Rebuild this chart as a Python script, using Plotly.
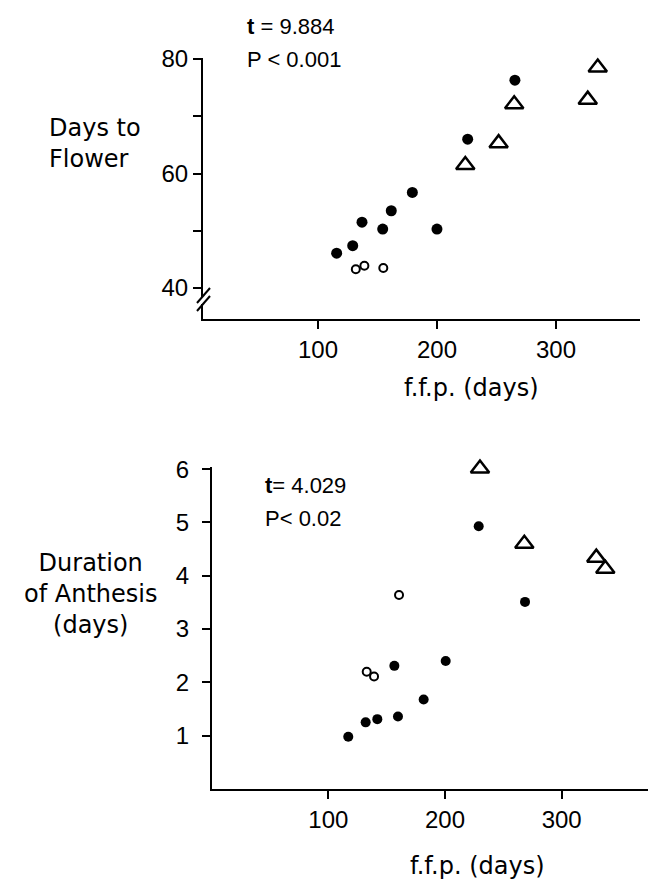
import plotly.graph_objects as go

W, H = 648, 883

# ---- Top panel: Days to Flower vs f.f.p. (days) ----
top_dot_x = [115.7, 129.2, 137.0, 154.4, 161.6, 179.3, 200.0, 225.8, 265.5]
top_dot_y = [46.1, 47.4, 51.5, 50.3, 53.5, 56.7, 50.3, 66.0, 76.3]
top_open_x = [131.8, 139.0, 154.9]
top_open_y = [43.3, 43.9, 43.5]
top_tri_x = [223.8, 251.8, 264.9, 326.7, 335.1]
top_tri_y = [61.5, 65.3, 72.1, 72.9, 78.5]

# ---- Bottom panel: Duration of Anthesis vs f.f.p. (days) ----
bot_dot_x = [117.1, 132.0, 142.0, 159.7, 156.6, 181.7, 200.6, 228.9, 268.6]
bot_dot_y = [0.98, 1.25, 1.31, 1.36, 2.31, 1.68, 2.40, 4.93, 3.51]
bot_open_x = [132.9, 139.2, 160.6]
bot_open_y = [2.20, 2.11, 3.64]
bot_tri_x = [230.0, 268.0, 329.7, 337.4]
bot_tri_y = [6.01, 4.60, 4.34, 4.13]

top_yticks = [40, 50, 60, 70, 80]
top_yticklabels = ["40", "", "60", "", "80"]
bot_yticks = [1, 2, 3, 4, 5, 6]
bot_yticklabels = ["1", "2", "3", "4", "5", "6"]
xticks = [100, 200, 300]
xticklabels = ["100", "200", "300"]

TICKFONT = dict(family="Liberation Sans, Arial, sans-serif", size=24, color="black")
LABFONT = dict(family="DejaVu Sans, sans-serif", size=24, color="black")
STATFONT = dict(family="Liberation Sans, Arial, sans-serif", size=22, color="black")

fig = go.Figure()

def add_panel(xa, ya, dx, dy, ox, oy, tx, ty, dot_size, tri_size):
    fig.add_trace(go.Scatter(x=dx, y=dy, mode="markers", xaxis=xa, yaxis=ya,
                             marker=dict(symbol="circle", size=dot_size, color="black"),
                             cliponaxis=False, showlegend=False))
    fig.add_trace(go.Scatter(x=ox, y=oy, mode="markers", xaxis=xa, yaxis=ya,
                             marker=dict(symbol="circle-open", size=8,
                                         color="black", line=dict(width=2, color="black")),
                             cliponaxis=False, showlegend=False))
    fig.add_trace(go.Scatter(x=tx, y=ty, mode="markers", xaxis=xa, yaxis=ya,
                             marker=dict(symbol="triangle-up-open", size=tri_size,
                                         color="black", line=dict(width=2.5, color="black")),
                             cliponaxis=False, showlegend=False))

add_panel("x", "y", top_dot_x, top_dot_y, top_open_x, top_open_y,
          top_tri_x, top_tri_y, 11, 16)
add_panel("x2", "y2", bot_dot_x, bot_dot_y, bot_open_x, bot_open_y,
          bot_tri_x, bot_tri_y, 10, 16)

axis_common = dict(showline=True, linecolor="black", linewidth=2,
                   ticks="outside", ticklen=8, tickwidth=2, tickcolor="black",
                   showgrid=False, zeroline=False, tickfont=TICKFONT,
                   automargin=False)

fig.update_layout(
    width=W, height=H,
    margin=dict(l=0, r=0, t=0, b=0, pad=0),
    paper_bgcolor="white", plot_bgcolor="white",
    xaxis=dict(domain=[203 / W, 640 / W], range=[3.4, 370.6], anchor="y",
               tickvals=xticks, ticktext=xticklabels, **axis_common),
    yaxis=dict(domain=[1 - 319 / H, 1 - 58 / H], range=[34.6, 80.17], anchor="x",
               tickvals=top_yticks, ticktext=top_yticklabels, **axis_common),
    xaxis2=dict(domain=[212 / W, 1.0], range=[0.3, 374], anchor="y2",
                tickvals=xticks, ticktext=xticklabels, **axis_common),
    yaxis2=dict(domain=[1 - 789 / H, 1 - 467 / H], range=[0, 6.04], anchor="x2",
                tickvals=bot_yticks, ticktext=bot_yticklabels,
                ticklabelstandoff=8, **axis_common),
)

def ann(text, px, py, xanchor="left", font=LABFONT, align="left"):
    fig.add_annotation(text=text, x=px / W, y=1 - py / H, xref="paper", yref="paper",
                       xanchor=xanchor, yanchor="middle", showarrow=False,
                       font=font, align=align)

# axis titles
ann("Days to<br>Flower", 47, 143)
ann("f.f.p. (days)", 471, 388, xanchor="center", align="center")
ann("Duration<br>of Anthesis<br>(days)", 90, 594, xanchor="center", align="center")
ann("f.f.p. (days)", 478, 866, xanchor="center", align="center")

# statistics
ann("<b>t</b> = 9.884", 245, 27, font=STATFONT)
ann("P < 0.001", 245, 60, font=STATFONT)
ann("<b>t</b>= 4.029", 263, 485, font=STATFONT)
ann("P< 0.02", 263, 518, font=STATFONT)

# axis break marks on the top y axis
fig.add_shape(type="rect", xref="paper", yref="paper",
              x0=199 / W, x1=207 / W, y0=1 - 304 / H, y1=1 - 297 / H,
              fillcolor="white", line=dict(width=0), layer="above")
for off in (0, 8):
    fig.add_shape(type="line", xref="paper", yref="paper",
                  x0=197 / W, y0=1 - (303 + off) / H, x1=210 / W, y1=1 - (288 + off) / H,
                  line=dict(color="black", width=2), layer="above")

fig.write_html(
    "out.html",
    config={"displayModeBar": False},
    post_script="document.body.style.margin='0';document.body.style.padding='0';"
                "document.documentElement.style.overflow='hidden';",
)
